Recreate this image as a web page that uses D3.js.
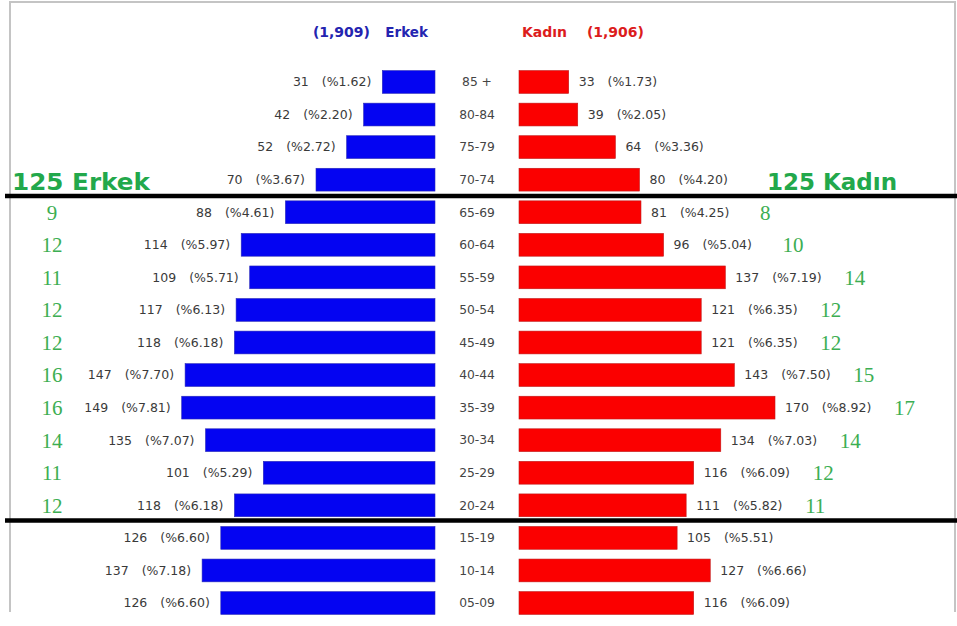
<!DOCTYPE html>
<html><head><meta charset="utf-8">
<script src="https://cdn.jsdelivr.net/npm/d3@7"></script>
<style>
html,body{margin:0;padding:0;background:#fff;}
svg{display:block;}
</style></head>
<body>
<script>
const ages = ["85 +","80-84","75-79","70-74","65-69","60-64","55-59","50-54","45-49","40-44","35-39","30-34","25-29","20-24","15-19","10-14","05-09"];
const male = [31,42,52,70,88,114,109,117,118,147,149,135,101,118,126,137,126];
const malePct = ["1.62","2.20","2.72","3.67","4.61","5.97","5.71","6.13","6.18","7.70","7.81","7.07","5.29","6.18","6.60","7.18","6.60"];
const female = [33,39,64,80,81,96,137,121,121,143,170,134,116,111,105,127,116];
const femalePct = ["1.73","2.05","3.36","4.20","4.25","5.04","7.19","6.35","6.35","7.50","8.92","7.03","6.09","5.82","5.51","6.66","6.09"];
const maleTotal = "1,909", femaleTotal = "1,906";
const bracketAges = ["65-69","60-64","55-59","50-54","45-49","40-44","35-39","30-34","25-29","20-24"];
const maleBracket = [9,12,11,12,12,16,16,14,11,12];
const femaleBracket = [8,10,14,12,12,15,17,14,12,11];
const bracketMaleTotal = "125 Erkek", bracketFemaleTotal = "125 Kadın";

const W = 957, H = 626;
const svg = d3.select("body").append("svg").attr("width", W).attr("height", H);

// frame
svg.append("path").attr("d", "M10,612 V2 H955 V612").attr("fill","none").attr("stroke","#c4c4c4").attr("stroke-width",2);

const y = d3.scaleBand().domain(ages).range([65.7, 619.3]).paddingInner(0.3).paddingOuter(0.15);
const leftEdge = 435, rightEdge = 519, centerX = 477;
const xL = d3.scaleLinear().domain([0,170]).range([0,289]);
const xR = d3.scaleLinear().domain([0,170]).range([0,256]);

const labelFont = '"DejaVu Sans","Verdana",sans-serif';

// bars
svg.selectAll("rect.m").data(ages).join("rect").attr("class","m")
  .attr("x", (d,i)=> leftEdge - xL(male[i])).attr("y", d=>y(d))
  .attr("width",(d,i)=>xL(male[i])).attr("height", y.bandwidth())
  .attr("fill","#0404f2").attr("stroke","#2a2ab8").attr("stroke-width",0.6);
svg.selectAll("rect.f").data(ages).join("rect").attr("class","f")
  .attr("x", rightEdge).attr("y", d=>y(d))
  .attr("width",(d,i)=>xR(female[i])).attr("height", y.bandwidth())
  .attr("fill","#fb0000").attr("stroke","#c01818").attr("stroke-width",0.6);

// value labels
function valueLabel(sel, vals, pcts) {
  sel.append("tspan").text((d,i)=> vals[i]);
  sel.append("tspan").attr("dx", 13).text((d,i)=> "(%" + pcts[i] + ")");
}
svg.selectAll("text.ml").data(ages).join("text").attr("class","ml")
  .attr("x",(d,i)=> leftEdge - xL(male[i]) - 11).attr("y", d=>y(d)+y.bandwidth()/2)
  .attr("dy","0.35em").attr("text-anchor","end")
  .attr("font-family",labelFont).attr("font-size",12.5).attr("fill","#3a3a3a")
  .call(valueLabel, male, malePct);
svg.selectAll("text.fl").data(ages).join("text").attr("class","fl")
  .attr("x",(d,i)=> rightEdge + xR(female[i]) + 10).attr("y", d=>y(d)+y.bandwidth()/2)
  .attr("dy","0.35em").attr("text-anchor","start")
  .attr("font-family",labelFont).attr("font-size",12.5).attr("fill","#3a3a3a")
  .call(valueLabel, female, femalePct);

// age labels
svg.selectAll("text.age").data(ages).join("text").attr("class","age")
  .attr("x", centerX).attr("y", d=>y(d)+y.bandwidth()/2).attr("dy","0.35em")
  .attr("text-anchor","middle").attr("font-family",labelFont).attr("font-size",12.3).attr("fill","#444")
  .text(d=>d);

// headers
const hdrFont = '"DejaVu Sans","Verdana",sans-serif';
svg.append("text").attr("x", 370).attr("y", 37).attr("text-anchor","end")
  .attr("font-family",hdrFont).attr("font-weight","bold").attr("font-size",14).attr("fill","#2424b0")
  .text("(" + maleTotal + ")");
svg.append("text").attr("x", 428).attr("y", 37).attr("text-anchor","end")
  .attr("font-family",hdrFont).attr("font-weight","bold").attr("font-size",13.5).attr("fill","#2424b0")
  .text("Erkek");
svg.append("text").attr("x", 522).attr("y", 37).attr("text-anchor","start")
  .attr("font-family",hdrFont).attr("font-weight","bold").attr("font-size",14).attr("fill","#dc1c1c")
  .text("Kadın");
svg.append("text").attr("x", 644).attr("y", 37).attr("text-anchor","end")
  .attr("font-family",hdrFont).attr("font-weight","bold").attr("font-size",14).attr("fill","#dc1c1c")
  .text("(" + femaleTotal + ")");

// bracket lines
const topY = (y(ages[3]) + y.bandwidth() + y(ages[4]))/2;
const botY = (y(ages[13]) + y.bandwidth() + y(ages[14]))/2 - 1;
[topY, botY].forEach(v => svg.append("line").attr("x1",5).attr("x2",W).attr("y1",v).attr("y2",v)
  .attr("stroke","#000").attr("stroke-width",4.5));

// bracket totals
svg.append("text").attr("x",12).attr("y",topY-6).attr("font-family",hdrFont).attr("font-weight","bold")
  .attr("font-size",23).attr("fill","#22a84b").attr("textLength",138).attr("lengthAdjust","spacingAndGlyphs")
  .text(bracketMaleTotal);
svg.append("text").attr("x",767).attr("y",topY-6).attr("font-family",hdrFont).attr("font-weight","bold")
  .attr("font-size",23).attr("fill","#22a84b").attr("textLength",130).attr("lengthAdjust","spacingAndGlyphs")
  .text(bracketFemaleTotal);

// bracket counts
const serif = '"Liberation Serif","DejaVu Serif",serif';
svg.selectAll("text.mb").data(bracketAges).join("text").attr("class","mb")
  .attr("x", 52).attr("y", d=>y(d)+y.bandwidth()/2).attr("dy","0.35em").attr("text-anchor","middle")
  .attr("font-family",serif).attr("font-size",21).attr("fill","#3cae52")
  .text((d,i)=>maleBracket[i]);
svg.selectAll("text.fb").data(bracketAges).join("text").attr("class","fb")
  .attr("x", d=> rightEdge + xR(female[ages.indexOf(d)]) + 119).attr("y", d=>y(d)+y.bandwidth()/2).attr("dy","0.35em")
  .attr("text-anchor","start")
  .attr("font-family",serif).attr("font-size",21).attr("fill","#3cae52")
  .text((d,i)=>femaleBracket[i]);
</script>
</body></html>
